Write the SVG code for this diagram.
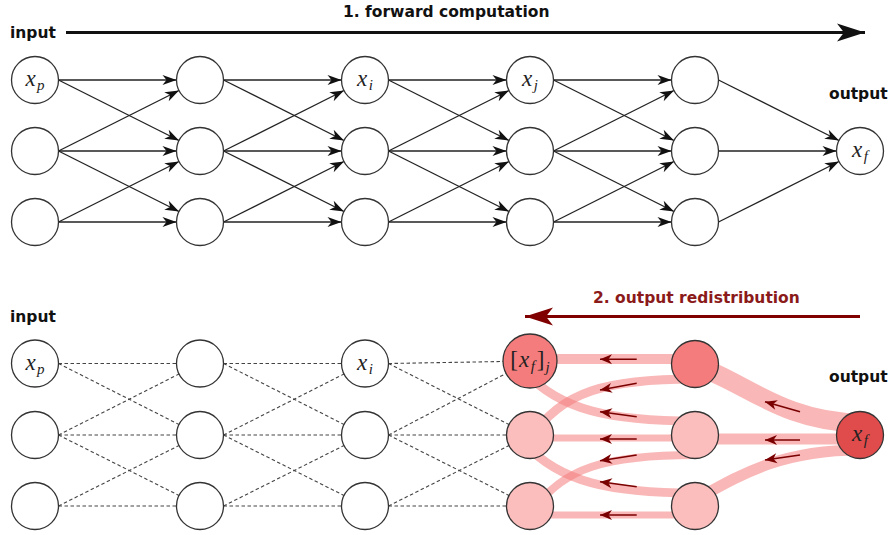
<svg xmlns="http://www.w3.org/2000/svg" width="892" height="535" viewBox="0 0 892 535">
<style>
.lbl{font-family:"DejaVu Sans","Liberation Sans",sans-serif;font-weight:bold;font-size:15.5px;fill:#111}
.red{fill:#8b1a1a}
.m{font-family:"Liberation Serif","DejaVu Serif",serif;font-style:italic;font-size:23px;fill:#222;text-anchor:middle}
.up{font-style:normal}
.sub{font-size:15px}
.node{stroke:#333;stroke-width:1.3;fill:#fff}
.lp{fill:#fcbdbd}
.mp{fill:#f47c7c}
.dp{fill:#e04c4c}
.e{stroke:#222;stroke-width:1.3;marker-end:url(#stealth)}
.d{stroke:#444;stroke-width:1.1;stroke-dasharray:3.5 2.5}
.rib{fill:none;stroke:#f47c7c;stroke-opacity:0.55}
.sa{stroke:#7a0000;stroke-width:1.6;marker-end:url(#rs)}
</style>
<defs>
<marker id="stealth" markerUnits="userSpaceOnUse" viewBox="-15 -6 16 12" refX="0" refY="0" markerWidth="16" markerHeight="12" orient="auto">
<path d="M0,0 L-14,-5 L-10,0 L-14,5 Z" fill="#111"/>
</marker>
<marker id="big" markerUnits="userSpaceOnUse" viewBox="-29 -10 30 20" refX="0" refY="0" markerWidth="30" markerHeight="20" orient="auto">
<path d="M0,0 L-28,-9 L-21,0 L-28,9 Z" fill="#111"/>
</marker>
<marker id="bigr" markerUnits="userSpaceOnUse" viewBox="-29 -10 30 20" refX="0" refY="0" markerWidth="30" markerHeight="20" orient="auto">
<path d="M0,0 L-28,-9 L-21,0 L-28,9 Z" fill="#800000"/>
</marker>
<marker id="rs" markerUnits="userSpaceOnUse" viewBox="-13 -6 14 12" refX="0" refY="0" markerWidth="14" markerHeight="12" orient="auto">
<path d="M0,0 L-12,-5 L-8.5,0 L-12,5 Z" fill="#7a0000"/>
</marker>
</defs>
<rect width="892" height="535" fill="#fff"/>

<g id="titles">
<text class="lbl" x="10" y="38">input</text>
<text class="lbl" x="343" y="17">1. forward computation</text>
<text class="lbl" x="829" y="99">output</text>
<text class="lbl" x="10" y="322">input</text>
<text class="lbl" x="829" y="382">output</text>
<text class="lbl red" x="593" y="303">2. output redistribution</text>
</g>

<g id="phase-arrows">
<line x1="66" y1="32.5" x2="865" y2="32.5" stroke="#111" stroke-width="3" marker-end="url(#big)"/>
<line x1="860" y1="316.5" x2="525" y2="316.5" stroke="#800000" stroke-width="3" marker-end="url(#bigr)"/>
</g>

<g id="connectors">
<line class="e" x1="58.5" y1="80" x2="176.5" y2="80"/>
<line class="e" x1="58.5" y1="80" x2="179" y2="140.5"/>
<line class="e" x1="58.5" y1="151" x2="179" y2="90.5"/>
<line class="e" x1="58.5" y1="151" x2="176.5" y2="151"/>
<line class="e" x1="58.5" y1="151" x2="179" y2="211.5"/>
<line class="e" x1="58.5" y1="222" x2="179" y2="161.5"/>
<line class="e" x1="58.5" y1="222" x2="176.5" y2="222"/>

<line class="e" x1="223.5" y1="80" x2="341.5" y2="80"/>
<line class="e" x1="223.5" y1="80" x2="344" y2="140.5"/>
<line class="e" x1="223.5" y1="151" x2="344" y2="90.5"/>
<line class="e" x1="223.5" y1="151" x2="341.5" y2="151"/>
<line class="e" x1="223.5" y1="151" x2="344" y2="211.5"/>
<line class="e" x1="223.5" y1="222" x2="344" y2="161.5"/>
<line class="e" x1="223.5" y1="222" x2="341.5" y2="222"/>

<line class="e" x1="388.5" y1="80" x2="506.5" y2="80"/>
<line class="e" x1="388.5" y1="80" x2="509" y2="140.5"/>
<line class="e" x1="388.5" y1="151" x2="509" y2="90.5"/>
<line class="e" x1="388.5" y1="151" x2="506.5" y2="151"/>
<line class="e" x1="388.5" y1="151" x2="509" y2="211.5"/>
<line class="e" x1="388.5" y1="222" x2="509" y2="161.5"/>
<line class="e" x1="388.5" y1="222" x2="506.5" y2="222"/>

<line class="e" x1="553.5" y1="80" x2="671.5" y2="80"/>
<line class="e" x1="553.5" y1="80" x2="674" y2="140.5"/>
<line class="e" x1="553.5" y1="151" x2="674" y2="90.5"/>
<line class="e" x1="553.5" y1="151" x2="671.5" y2="151"/>
<line class="e" x1="553.5" y1="151" x2="674" y2="211.5"/>
<line class="e" x1="553.5" y1="222" x2="674" y2="161.5"/>
<line class="e" x1="553.5" y1="222" x2="671.5" y2="222"/>

<line class="e" x1="718.5" y1="80" x2="839" y2="140.5"/>
<line class="e" x1="718.5" y1="151" x2="836.5" y2="151"/>
<line class="e" x1="718.5" y1="222" x2="839" y2="161.5"/>

<line class="d" x1="58.5" y1="363.5" x2="176.5" y2="363.5"/>
<line class="d" x1="58.5" y1="363.5" x2="179" y2="424.5"/>
<line class="d" x1="58.5" y1="435" x2="179" y2="374"/>
<line class="d" x1="58.5" y1="435" x2="176.5" y2="435"/>
<line class="d" x1="58.5" y1="435" x2="179" y2="495.5"/>
<line class="d" x1="58.5" y1="506" x2="179" y2="445.5"/>
<line class="d" x1="58.5" y1="506" x2="176.5" y2="506"/>

<line class="d" x1="223.5" y1="363.5" x2="341.5" y2="363.5"/>
<line class="d" x1="223.5" y1="363.5" x2="344" y2="424.5"/>
<line class="d" x1="223.5" y1="435" x2="344" y2="374"/>
<line class="d" x1="223.5" y1="435" x2="341.5" y2="435"/>
<line class="d" x1="223.5" y1="435" x2="344" y2="495.5"/>
<line class="d" x1="223.5" y1="506" x2="344" y2="445.5"/>
<line class="d" x1="223.5" y1="506" x2="341.5" y2="506"/>

<line class="d" x1="388.5" y1="363.5" x2="503" y2="361.5"/>
<line class="d" x1="388.5" y1="363.5" x2="509" y2="424.5"/>
<line class="d" x1="388.5" y1="435" x2="506" y2="373.5"/>
<line class="d" x1="388.5" y1="435" x2="506.5" y2="435"/>
<line class="d" x1="388.5" y1="435" x2="509" y2="495.5"/>
<line class="d" x1="388.5" y1="506" x2="509" y2="445.5"/>
<line class="d" x1="388.5" y1="506" x2="506.5" y2="506"/>

<path class="rib" stroke-width="10" d="M530 359 L695 359"/>
<path class="rib" stroke-width="9" d="M695 379 C610 379 560 390 530 440"/>
<path class="rib" stroke-width="9" d="M525 372 C560 410 610 421 695 421"/>
<path class="rib" stroke-width="7" d="M530 438 L695 438"/>
<path class="rib" stroke-width="8" d="M695 455 C610 455 560 466 530 516"/>
<path class="rib" stroke-width="9" d="M525 444 C560 482 610 493 695 493"/>
<path class="rib" stroke-width="7" d="M530 515 L695 515"/>
<path class="rib" stroke-width="19" d="M695 366 C740 378 780 422 860 423"/>
<path class="rib" stroke-width="11" d="M695 439 L860 439"/>
<path class="rib" stroke-width="11" d="M695 500 C740 475 780 450 860 450"/>

<line class="sa" x1="636.7" y1="359.3" x2="600" y2="359.3"/>
<line class="sa" x1="636.7" y1="383.3" x2="600" y2="390"/>
<line class="sa" x1="636.7" y1="416.7" x2="600" y2="411.7"/>
<line class="sa" x1="636.7" y1="439" x2="600" y2="439"/>
<line class="sa" x1="636.7" y1="455" x2="600" y2="460.7"/>
<line class="sa" x1="636.7" y1="486.7" x2="600" y2="481.7"/>
<line class="sa" x1="636.7" y1="515" x2="600" y2="515"/>
<line class="sa" x1="800" y1="411.7" x2="765" y2="401.7"/>
<line class="sa" x1="800" y1="440" x2="765" y2="440"/>
<line class="sa" x1="800" y1="455" x2="765" y2="460"/>
</g>

<g id="t00"><circle class="node" cx="35" cy="80" r="23.5"/><text class="m" x="35" y="86">x<tspan class="sub" dx="1.5" dy="4">p</tspan></text></g>
<g id="t01"><circle class="node" cx="35" cy="151" r="23.5"/></g>
<g id="t02"><circle class="node" cx="35" cy="222" r="23.5"/></g>
<g id="t10"><circle class="node" cx="200" cy="80" r="23.5"/></g>
<g id="t11"><circle class="node" cx="200" cy="151" r="23.5"/></g>
<g id="t12"><circle class="node" cx="200" cy="222" r="23.5"/></g>
<g id="t20"><circle class="node" cx="365" cy="80" r="23.5"/><text class="m" x="365" y="86">x<tspan class="sub" dx="1.5" dy="4">i</tspan></text></g>
<g id="t21"><circle class="node" cx="365" cy="151" r="23.5"/></g>
<g id="t22"><circle class="node" cx="365" cy="222" r="23.5"/></g>
<g id="t30"><circle class="node" cx="530" cy="80" r="23.5"/><text class="m" x="530" y="86">x<tspan class="sub" dx="1.5" dy="4">j</tspan></text></g>
<g id="t31"><circle class="node" cx="530" cy="151" r="23.5"/></g>
<g id="t32"><circle class="node" cx="530" cy="222" r="23.5"/></g>
<g id="t40"><circle class="node" cx="695" cy="80" r="23.5"/></g>
<g id="t41"><circle class="node" cx="695" cy="151" r="23.5"/></g>
<g id="t42"><circle class="node" cx="695" cy="222" r="23.5"/></g>
<g id="tout"><circle class="node" cx="860" cy="151" r="23.5"/><text class="m" x="860" y="157">x<tspan class="sub" dx="1.5" dy="4">f</tspan></text></g>

<g id="b00"><circle class="node" cx="35" cy="363.5" r="23.5"/><text class="m" x="35" y="369.5">x<tspan class="sub" dx="1.5" dy="4">p</tspan></text></g>
<g id="b01"><circle class="node" cx="35" cy="435" r="23.5"/></g>
<g id="b02"><circle class="node" cx="35" cy="506" r="23.5"/></g>
<g id="b10"><circle class="node" cx="200" cy="363.5" r="23.5"/></g>
<g id="b11"><circle class="node" cx="200" cy="435" r="23.5"/></g>
<g id="b12"><circle class="node" cx="200" cy="506" r="23.5"/></g>
<g id="b20"><circle class="node" cx="365" cy="363.5" r="23.5"/><text class="m" x="365" y="369.5">x<tspan class="sub" dx="1.5" dy="4">i</tspan></text></g>
<g id="b21"><circle class="node" cx="365" cy="435" r="23.5"/></g>
<g id="b22"><circle class="node" cx="365" cy="506" r="23.5"/></g>
<g id="b30"><circle class="node mp" cx="530" cy="361" r="27"/><text class="m" x="530" y="367"><tspan class="up">[</tspan><tspan dx="1">x</tspan><tspan class="sub" dx="1.5" dy="4">f</tspan><tspan class="up" dx="2" dy="-4">]</tspan><tspan class="sub" dx="1" dy="5">j</tspan></text></g>
<g id="b31"><circle class="node lp" cx="530" cy="435" r="23.5"/></g>
<g id="b32"><circle class="node lp" cx="530" cy="506" r="23.5"/></g>
<g id="b40"><circle class="node mp" cx="695" cy="364" r="23.5"/></g>
<g id="b41"><circle class="node lp" cx="695" cy="435" r="23.5"/></g>
<g id="b42"><circle class="node lp" cx="695" cy="506" r="23.5"/></g>
<g id="bout"><circle class="node dp" cx="860" cy="435" r="23.5"/><text class="m" x="860" y="441">x<tspan class="sub" dx="1.5" dy="4">f</tspan></text></g>
</svg>
